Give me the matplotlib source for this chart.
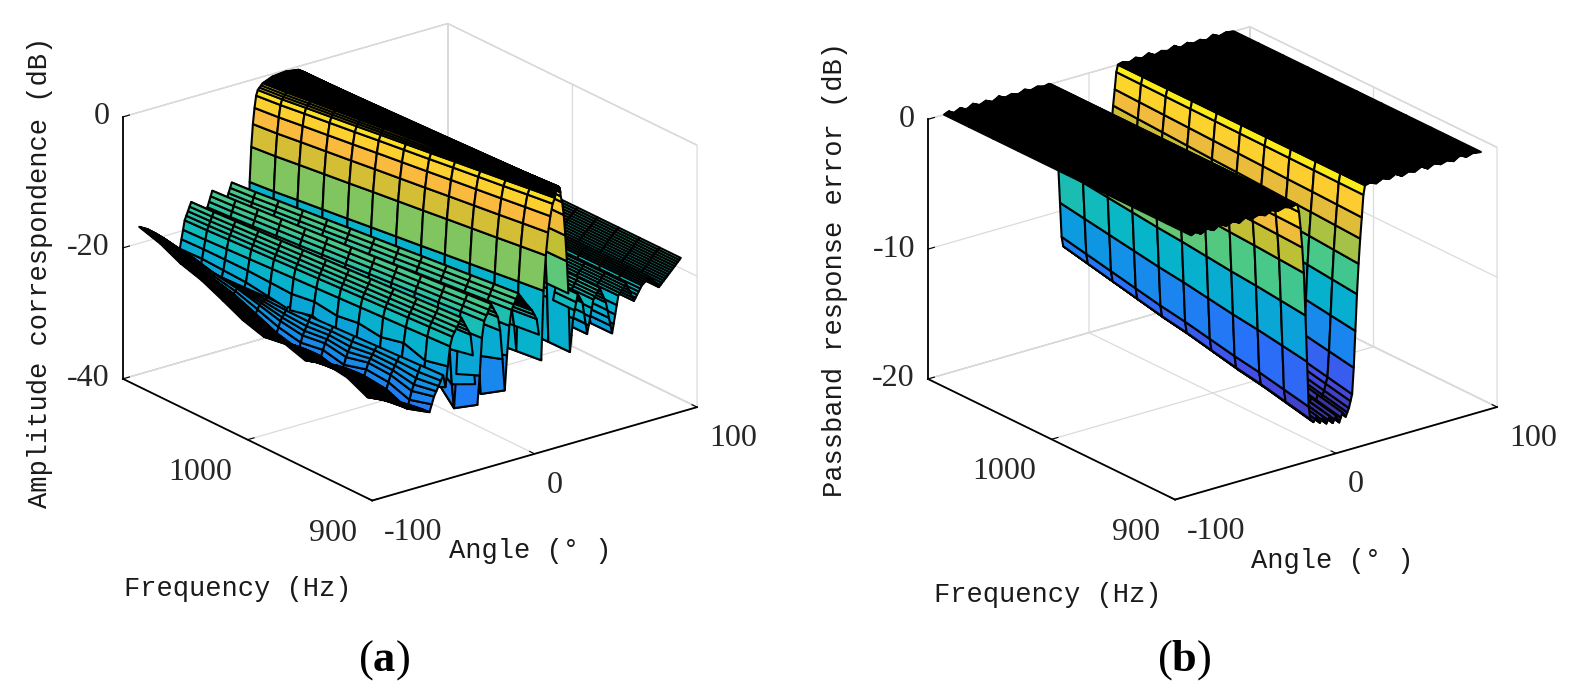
import numpy as np
import matplotlib
matplotlib.use('Agg')
import matplotlib.pyplot as plt
from matplotlib.colors import LinearSegmentedColormap
from mpl_toolkits.mplot3d import proj3d

W, H = 1584, 694

# ---------------- data (a): amplitude response ----------------
freq_a = [900, 917, 933, 950, 967, 983, 1000, 1017, 1033, 1050, 1067, 1083, 1100]
# mainlobe edges per frequency (deg)
lobe_left_a = [12.5, 10, 7.5, 5, 2.5, 0, -2.5, -5, -7.5, -10, -12.5, -15, -17]
lobe_right_a = [16, 15.7, 15.4, 15.1, 14.8, 14.5, 14.2, 13.9, 13.6, 13.3, 13.1, 13, 13]
# extra drop (dB) near -90 deg and of the left-side nulls, per frequency
edge_drop_a = [-8, -9, -7.5, -7, -8, -7, -7.5, -6.5, -5, -3.5, -2.5, -1, 0]
null_drop_a = [-5, -7, -3, -5, -3, -4, -2, -3, -2, -1, -0.5, 0, 0]
# response along the angle (at 1100 Hz), dB
ang_knots_a = [-90, -85, -80, -75, -70, -66, -62, -58, -54, -51, -48, -45, -42, -39,
               -36, -33, -30, -27, -25, -24, -23, -22, -21, -20, -19, -18,
               -17, -14, -8, 0, 8, 12, 13, 14, 15, 16, 17, 18, 19, 21, 24, 27, 30,
               34, 38, 42, 46, 50, 55, 60, 65, 70, 76, 82, 90]
db_knots_a = [-17.5, -18.2, -19.2, -20.3, -21.5, -24, -18.5, -16, -19, -25, -17.5, -15.2, -17.5, -24,
              -17, -14.8, -16.5, -18, -19.5, -22, -26, -15.5, -10.2, -6.8, -4.4, -2.6,
              -1.8, -1.0, -0.4, -0.2, -0.5, -1.2, -1.8, -2.8, -4.8, -8, -12, -17, -26, -21, -17.5, -19, -24,
              -19, -17.5, -20, -25, -19.5, -18, -21, -19, -18, -20, -18.5, -16.5]

# ---------------- data (b): passband response error ----------------
freq_b = [900, 920, 940, 960, 980, 1000, 1020, 1040, 1060, 1080, 1100]
depth_b = [1.0, 0.975, 0.95, 0.93, 0.905, 0.88, 0.86, 0.835, 0.81, 0.785, 0.76]
ang_knots_b = [-90, -87, -84, -80, -76, -72, -68, -64, -60, -56, -52, -48, -44, -40,
               -36, -32, -28, -25, -24, -23, -22, -21, -20, -19, -18, -17, -16, -14,
               -12, -10, -8, -6, -4, -2, 0, 2, 4, 6, 8, 10, 11, 12, 13, 14, 15, 16,
               17, 18, 21, 25, 29, 33, 37, 41, 45, 49, 53, 57, 61, 65, 69, 73, 77,
               81, 85, 90]
db_knots_b = [0.0, 0.15, -0.1, 0.15, -0.1, 0.2, -0.05, 0.15, -0.1, 0.2, -0.05, 0.1, -0.1, 0.15,
              -0.05, 0.1, -0.05, 0.05, 0.0, -0.6, -1.9, -3.4, -5.4, -8.7, -12.3, -15.8, -16.8, -17.1,
              -16.7, -17.3, -16.9, -17.5, -17.0, -17.6, -17.1, -17.7, -17.0, -17.4, -16.8, -15.8,
              -13.8, -11.0, -8.2, -5.9, -4.0, -2.4,
              -0.7, 0.0, 0.1, -0.1, 0.15, -0.05, 0.2, -0.1, 0.1, -0.05, 0.2, -0.1, 0.15, -0.05,
              0.1, -0.1, 0.2, -0.05, 0.1, 0.0]

parula = LinearSegmentedColormap.from_list('parula_like', [
    (0.00, (0.21, 0.17, 0.53)), (0.12, (0.27, 0.30, 0.90)), (0.25, (0.15, 0.45, 0.98)),
    (0.37, (0.05, 0.60, 0.88)), (0.50, (0.02, 0.72, 0.78)), (0.62, (0.30, 0.79, 0.52)),
    (0.75, (0.75, 0.75, 0.20)), (0.87, (0.99, 0.73, 0.24)), (1.00, (0.98, 0.98, 0.06))])

serif = 'Liberation Serif'
mono = 'Liberation Mono'
plt.rcParams['mathtext.fontset'] = 'custom'
plt.rcParams['mathtext.rm'] = 'Liberation Serif'
plt.rcParams['mathtext.bf'] = 'Liberation Serif:bold'

fig = plt.figure(figsize=(W / 100, H / 100), dpi=100)


def fig_xy(x, y):
    return x / W, 1 - y / H


def to_px(ax, x, y, z):
    x2, y2, _ = proj3d.proj_transform(x, y, z, ax.get_proj())
    dx, dy = ax.transData.transform((x2, y2))
    return dx, H - dy


def make_axes(zlim, zticks, left_t, right_t):
    ax = fig.add_axes([0, 0, 0.5, 0.5], projection='3d')
    ax.set_facecolor('none')
    ax.set_proj_type('ortho')
    ax.view_init(elev=22, azim=-127.5)
    ax.set_box_aspect((1, 1, 0.69))
    ax.set_xlim(-100, 100)
    ax.set_ylim(900, 1100)
    ax.set_zlim(*zlim)
    ax.set_xticks([-100, 0, 100])
    ax.set_yticks([900, 1000])
    ax.set_zticks(zticks)
    for axis in (ax.xaxis, ax.yaxis, ax.zaxis):
        axis.set_ticklabels([])
        axis.set_pane_color((1, 1, 1, 1))
        axis.pane.set_edgecolor((0.8, 0.8, 0.8))
        axis.line.set_color('k')
        axis.line.set_linewidth(1.3)
        axis._axinfo['grid'].update(color=(0.86, 0.86, 0.86), linewidth=0.9)
        axis._axinfo['tick'].update(inward_factor=0.0, outward_factor=0.25)
        axis._axinfo['tick']['color'] = 'k'
    # fit the box onto the reference corners
    size = 800.0
    cx, cy = (left_t[0] + right_t[0]) / 2, (left_t[1] + right_t[1]) / 2
    for _ in range(4):
        ax.set_position([(cx - size / 2) / W, 1 - (cy + size / 2) / H, size / W, size / H])
        fig.canvas.draw()
        lx, ly = to_px(ax, -100, 1100, zlim[0])
        rx, ry = to_px(ax, 100, 900, zlim[0])
        size *= np.hypot(right_t[0] - left_t[0], right_t[1] - left_t[1]) / np.hypot(rx - lx, ry - ly)
        cx += (left_t[0] + right_t[0]) / 2 - (lx + rx) / 2
        cy += (left_t[1] + right_t[1]) / 2 - (ly + ry) / 2
    ax.set_position([(cx - size / 2) / W, 1 - (cy + size / 2) / H, size / W, size / H])
    fig.canvas.draw()
    return ax


def tick_texts(ax, zlim, zticks):
    kw = dict(fontsize=23, family=serif, color='#262626')
    for z in zticks:
        x, y = to_px(ax, -100, 1100, z)
        fig.text(*fig_xy(x - 13, y), f'{z:g}', ha='right', va='center', **kw)
    for f in [900, 1000]:
        x, y = to_px(ax, -100, f, zlim[0])
        fig.text(*fig_xy(x - 15, y + 18), f'{f}', ha='right', va='top', **kw)
    for a in [-100, 0, 100]:
        x, y = to_px(ax, a, 900, zlim[0])
        fig.text(*fig_xy(x + 12, y + 17), f'{a}', ha='left', va='top', **kw)


# ---- panel (a) ----
ax1 = make_axes((-40, 0), [-40, -20, 0], (123, 378), (697, 408))
s_grid = np.arange(-90, 91, 1.0)
prof_a = np.interp(s_grid, ang_knots_a, db_knots_a)
edge_w = np.interp(s_grid, [-72, -66], [1, 0])
null_w = np.clip((-20 - prof_a) / 4, 0, 1) * (s_grid < -30) * (s_grid > -66)
TH_a = np.array([np.interp(s_grid, [-90, -17, 13, 90], [-90, l, r, 90])
                 for l, r in zip(lobe_left_a, lobe_right_a)])
FQ_a = np.repeat(np.array(freq_a, float)[:, None], len(s_grid), axis=1)
Z_a = np.array([prof_a + e * edge_w + d * null_w for e, d in zip(edge_drop_a, null_drop_a)])
ax1.plot_surface(TH_a, FQ_a, Z_a, cmap=parula, vmin=-40, vmax=0, rstride=1, cstride=1,
                 edgecolor='k', linewidth=1.5, shade=False, antialiased=True)
tick_texts(ax1, (-40, 0), [-40, -20, 0])

# ---- panel (b) ----
ax2 = make_axes((-20, 0), [-20, -10, 0], (928, 378), (1497, 408))
prof_b = np.interp(s_grid, ang_knots_b, db_knots_b)
TH_b, FQ_b = np.meshgrid(s_grid, np.array(freq_b, float))
Z_b = np.array([np.where(prof_b < 0, prof_b * d, prof_b) for d in depth_b])
ax2.plot_surface(TH_b, FQ_b, Z_b, cmap=parula, vmin=Z_b.min(), vmax=Z_b.max(), rstride=1, cstride=1,
                 edgecolor='k', linewidth=1.5, shade=False, antialiased=True)
tick_texts(ax2, (-20, 0), [-20, -10, 0])

# ---- axis titles ----
lab = dict(fontsize=19.5, family=mono, color='#1a1a1a')
fig.text(*fig_xy(40, 272), 'Amplitude correspondence (dB)', rotation=90, ha='center', va='center', **lab)
fig.text(*fig_xy(238, 589), 'Frequency (Hz)', ha='center', va='center', **lab)
fig.text(*fig_xy(530, 551), 'Angle (° )', ha='center', va='center', **lab)
fig.text(*fig_xy(835, 270), 'Passband response error (dB)', rotation=90, ha='center', va='center', **lab)
fig.text(*fig_xy(1048, 595), 'Frequency (Hz)', ha='center', va='center', **lab)
fig.text(*fig_xy(1332, 561), 'Angle (° )', ha='center', va='center', **lab)

fig.text(*fig_xy(384, 660), r'($\mathbf{a}$)', fontsize=32, family=serif, ha='center', va='center')
fig.text(*fig_xy(1184, 660), r'($\mathbf{b}$)', fontsize=32, family=serif, ha='center', va='center')

fig.savefig('out.png', dpi=100)
